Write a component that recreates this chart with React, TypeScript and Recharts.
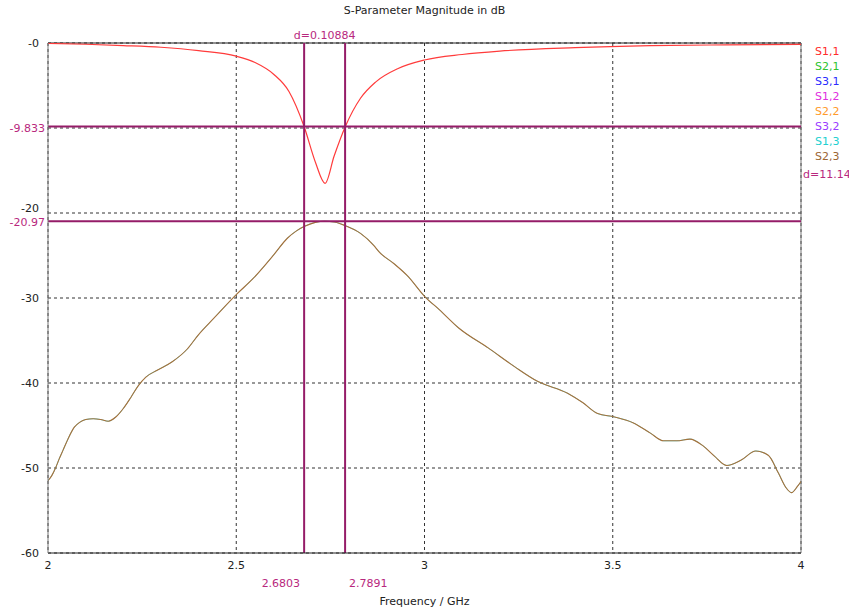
import React from "react";
import { LineChart, Line, XAxis, YAxis, CartesianGrid, ReferenceLine } from "recharts";

const s11Freq = [2.0, 2.1, 2.2, 2.3, 2.4, 2.5, 2.55, 2.6, 2.64, 2.68, 2.71, 2.736, 2.76, 2.79, 2.83, 2.87, 2.93, 3.0, 3.1, 3.2, 3.4, 3.6, 3.8, 4.0];
const s11 = [-0.05, -0.15, -0.3, -0.5, -0.9, -1.55, -2.3, -3.7, -5.7, -9.8, -14.0, -16.5, -13.3, -9.8, -6.5, -4.6, -3.0, -2.0, -1.35, -0.95, -0.55, -0.32, -0.22, -0.16];

const s21Freq = [
  2.0, 2.01, 2.02, 2.03, 2.04, 2.055, 2.07, 2.085, 2.1, 2.12, 2.14, 2.16, 2.18, 2.2, 2.22, 2.24, 2.26, 2.29,
  2.33, 2.37, 2.4, 2.44, 2.5, 2.545, 2.6, 2.635, 2.66, 2.68, 2.71, 2.735, 2.76, 2.79, 2.83, 2.865, 2.88,
  2.92, 2.955, 3.0, 3.04, 3.09, 3.17, 3.24, 3.3, 3.38, 3.42, 3.46, 3.505, 3.555, 3.6, 3.635, 3.67, 3.705,
  3.74, 3.77, 3.803, 3.84, 3.88, 3.913, 3.94, 3.96, 3.975, 3.99, 4.0,
];
const s21 = [
  -51.5, -50.9, -50.0, -48.9, -47.9, -46.4, -45.2, -44.6, -44.3, -44.2, -44.3, -44.5, -44.0, -43.0, -41.7, -40.3, -39.3, -38.5,
  -37.5, -36.0, -34.3, -32.4, -29.6, -27.7, -24.9, -23.0, -22.1, -21.6, -21.1, -20.97, -21.05, -21.5, -22.4, -23.8, -24.6,
  -26.0, -27.4, -29.8, -31.4, -33.5, -35.9, -38.1, -39.8, -41.2, -42.3, -43.6, -44.0, -44.7, -45.9, -46.8, -46.8, -46.6,
  -47.4, -48.6, -49.7, -49.1, -48.0, -48.5, -50.6, -52.3, -52.9, -52.2, -51.6,
];

const xTicks = [2, 2.5, 3, 3.5, 4];
const yTicks = [0, -10, -20, -30, -40, -50, -60];

const legendNames = ["S1,1", "S2,1", "S3,1", "S1,2", "S2,2", "S3,2", "S1,3", "S2,3"];
const legendColors = ["#ff2b2b", "#2ec42e", "#2b2bff", "#e02ee0", "#ff9a2b", "#9a3bff", "#22d0d0", "#9c6633"];

const markerX = [2.6803, 2.7891];
const markerY = [-9.833, -20.97];
const dxLabel = "d=0.10884";
const dyLabel = "d=11.14";

const s11Data = s11Freq.map((f, i) => ({ f, v: s11[i] }));
const s21Data = s21Freq.map((f, i) => ({ f, v: s21[i] }));

const FONT = "'DejaVu Sans', sans-serif";
const MARK = "#951c68";
const MARK_TEXT = "#b8287e";

// y tick: -10 is covered by the marker label, -20 is nudged up so it clears -20.97
const YTick = (props: any) => {
  const { x, y, payload } = props;
  const v = payload.value;
  if (v === -10) return null;
  const shift = v === -20 ? -5 : 0;
  return (
    <text x={x} y={y + 4 + shift} fill="#222" fontSize={11} fontFamily={FONT} textAnchor="end">
      {v === 0 ? "-0" : String(v)}
    </text>
  );
};

const xMarkLabel = (text: string, side: "left" | "right") => (props: any) => {
  const vb = props.viewBox || {};
  const x = side === "left" ? vb.x - 4 : vb.x + 4;
  return (
    <text x={x} y={587} fill={MARK_TEXT} fontSize={11} fontFamily={FONT} textAnchor={side === "left" ? "end" : "start"}>
      {text}
    </text>
  );
};

const yMarkLabel = (text: string) => (props: any) => {
  const vb = props.viewBox || {};
  return (
    <text x={vb.x - 3} y={vb.y + 5} fill={MARK_TEXT} fontSize={11} fontFamily={FONT} textAnchor="end">
      {text}
    </text>
  );
};

const topLabel = (text: string) => (props: any) => {
  const vb = props.viewBox || {};
  return (
    <text x={vb.x} y={39} fill={MARK_TEXT} fontSize={11} fontFamily={FONT} textAnchor="middle">
      {text}
    </text>
  );
};

const rightLabel = (text: string) => (props: any) => {
  const vb = props.viewBox || {};
  return (
    <text x={vb.x + vb.width + 2} y={vb.y + 4} fill={MARK_TEXT} fontSize={11} fontFamily={FONT} textAnchor="start">
      {text}
    </text>
  );
};

export default function App() {
  return (
    <div style={{ position: "absolute", left: 0, top: 0, width: 849, height: 610, background: "#fff", fontFamily: FONT }}>
      <div style={{ position: "absolute", left: 0, top: 4, width: 849, textAlign: "center", fontSize: 11, color: "#222" }}>
        S-Parameter Magnitude in dB
      </div>
      <div style={{ position: "absolute", left: 815, top: 44, fontSize: 11, lineHeight: "15px" }}>
        {legendNames.map((n, i) => (
          <div key={n} style={{ color: legendColors[i] }}>{n}</div>
        ))}
      </div>
      <LineChart width={849} height={610} margin={{ top: 43, right: 48, bottom: 0, left: 0 }}>
        <CartesianGrid stroke="#333" strokeDasharray="3 3" />
        <XAxis
          type="number"
          dataKey="f"
          domain={[2, 4]}
          ticks={xTicks}
          height={57}
          tickLine={false}
          tickSize={0}
          tickMargin={8}
          axisLine={{ stroke: "#222" }}
          tick={{ fill: "#222", fontSize: 11, fontFamily: FONT }}
          allowDataOverflow
          label={{ value: "Frequency / GHz", position: "insideBottom", offset: 5, fill: "#222", fontSize: 11, fontFamily: FONT }}
        />
        <YAxis
          type="number"
          domain={[-60, 0]}
          ticks={yTicks}
          width={48}
          tickLine={false}
          tickSize={0}
          tickMargin={9}
          axisLine={{ stroke: "#777" }}
          tick={<YTick />}
          allowDataOverflow
        />
        <ReferenceLine y={0} stroke="#222" />
        <ReferenceLine x={4} stroke="#777" />
        <Line data={s11Data} dataKey="v" type="monotone" stroke="#ff3b3b" strokeWidth={1.2} dot={false} isAnimationActive={false} />
        <Line data={s21Data} dataKey="v" type="monotone" stroke="#22c8c8" strokeWidth={0.7} dot={false} isAnimationActive={false} />
        <Line data={s21Data} dataKey="v" type="monotone" stroke="#a8703a" strokeWidth={1.1} dot={false} isAnimationActive={false} />
        <ReferenceLine x={markerX[0]} stroke={MARK} strokeWidth={2} label={xMarkLabel(String(markerX[0]), "left")} />
        <ReferenceLine x={markerX[1]} stroke={MARK} strokeWidth={2} label={xMarkLabel(String(markerX[1]), "right")} />
        <ReferenceLine y={markerY[0]} stroke={MARK} strokeWidth={2} label={yMarkLabel(String(markerY[0]))} />
        <ReferenceLine y={markerY[1]} stroke={MARK} strokeWidth={2} label={yMarkLabel(String(markerY[1]))} />
        <ReferenceLine x={(markerX[0] + markerX[1]) / 2} stroke="none" label={topLabel(dxLabel)} />
        <ReferenceLine y={(markerY[0] + markerY[1]) / 2} stroke="none" label={rightLabel(dyLabel)} />
      </LineChart>
    </div>
  );
}
